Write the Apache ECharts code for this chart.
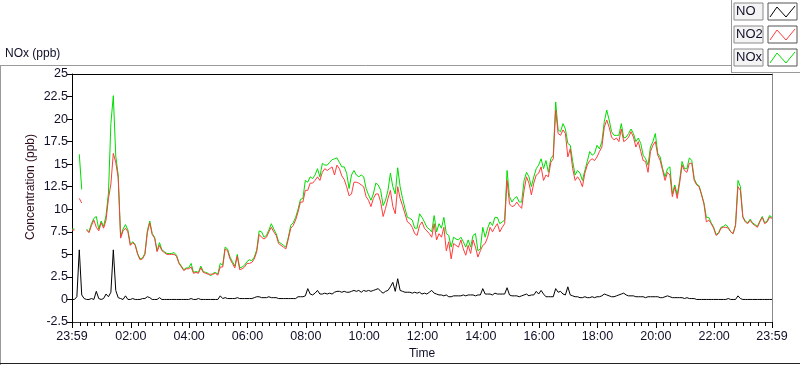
<!DOCTYPE html>
<html>
<head>
<meta charset="utf-8">
<script src="https://cdn.jsdelivr.net/npm/echarts@6/dist/echarts.min.js"></script>
<style>
html,body{margin:0;padding:0;background:#fff;}
#main{width:800px;height:365px;}
</style>
</head>
<body>
<div id="main"></div>
<script>
// samples every 5 min starting 23:59 (minute -1 of the day)
var startMin = -1, stepMin = 5;

var noData = [
0.0,0.0,0.3,5.5,0.5,0.1,0.0,0.0,0.1,0.0, 0.9,0.1,0.0,0.1,0.6,0.3,0.8,5.5,1.0,0.2,
0.1,0.0,0.4,0.0,0.0,0.1,0.0,0.0,0.0,0.1, 0.1,0.3,0.2,0.0,0.0,0.0,0.2,0.0,0.0,0.0,
0.0,0.0,0.0,0.0,0.0,0.0,0.0,0.0,0.0,0.1, 0.0,0.0,0.1,0.0,0.0,0.0,0.0,0.0,0.0,0.0,
0.0,0.4,0.1,0.2,0.1,0.1,0.1,0.1,0.2,0.1, 0.1,0.1,0.1,0.1,0.1,0.2,0.3,0.3,0.2,0.2,
0.2,0.3,0.2,0.2,0.2,0.1,0.1,0.1,0.1,0.1, 0.1,0.1,0.1,0.3,0.3,0.3,0.4,1.2,0.6,0.5,
0.7,1.0,0.6,0.6,0.7,0.6,0.7,0.6,0.8,0.9, 0.9,0.8,0.9,0.8,0.8,0.9,1.0,0.9,1.0,0.8,
1.0,0.9,1.0,0.9,1.0,1.1,1.2,0.9,0.7,0.9, 1.0,1.4,1.9,0.9,2.3,1.0,0.9,0.8,0.8,0.8,
0.7,0.8,0.7,0.8,0.6,0.7,0.6,0.8,1.0,0.7, 0.6,0.5,0.5,0.4,0.5,0.3,0.3,0.4,0.4,0.4,
0.4,0.5,0.4,0.5,0.5,0.5,0.4,0.5,0.5,1.2, 0.6,0.6,0.6,0.5,0.7,0.6,0.6,0.6,0.6,1.3,
0.5,0.4,0.4,0.4,0.3,0.4,0.5,0.6,0.4,0.5, 0.5,0.9,0.6,1.0,0.6,0.3,0.3,0.3,0.3,1.2,
0.8,0.9,0.6,0.5,1.4,0.5,0.4,0.3,0.3,0.2, 0.2,0.3,0.2,0.2,0.3,0.2,0.3,0.3,0.4,0.6,
0.5,0.4,0.3,0.3,0.4,0.5,0.6,0.7,0.5,0.4, 0.4,0.4,0.3,0.3,0.3,0.3,0.2,0.3,0.3,0.3,
0.3,0.3,0.2,0.2,0.3,0.4,0.3,0.2,0.2,0.2, 0.2,0.2,0.1,0.2,0.1,0.1,0.1,0.0,0.0,0.0,
0.0,0.0,0.0,0.0,0.0,0.0,0.0,0.0,0.0,0.0, 0.1,0.0,0.0,0.0,0.4,0.1,0.0,0.0,0.0,0.0,
0.0,0.0,0.0,0.0,0.0,0.0,0.0,0.0,0.0
];

var no2Data = [
7.7,7.7,null,11.2,10.7,null,7.7,7.4,8.2,8.8, 8.0,7.6,8.5,7.9,8.8,11.2,12.8,16.2,15.2,13.5,
6.8,7.6,7.9,7.5,6.0,6.3,6.0,5.0,4.4,4.5, 5.0,7.4,8.5,7.2,6.8,5.3,6.0,5.4,5.2,5.0,
5.0,5.0,5.0,4.8,4.0,3.6,3.2,3.4,3.4,3.6, 2.9,3.0,2.9,3.5,3.0,2.9,2.8,2.8,2.8,2.9,
2.7,3.6,3.6,5.6,5.4,4.5,4.0,3.5,4.8,3.3, 3.4,3.6,4.0,4.0,4.1,4.5,5.3,7.2,6.9,6.7,
6.9,7.5,8.0,7.5,7.1,6.2,6.0,5.8,5.6,6.7, 7.9,8.2,8.8,9.7,10.8,10.8,12.1,12.1,12.9,12.9,
13.2,13.6,13.2,14.1,14.5,14.3,14.5,14.7,13.8,14.9, 14.5,13.7,13.3,12.5,11.5,11.7,13.0,13.0,12.9,12.7,
12.5,11.4,11.0,10.3,11.2,11.7,11.7,10.8,9.2,10.1, 11.2,12.1,10.3,9.5,12.5,11.2,10.4,9.5,8.6,8.4,
8.0,7.3,7.1,8.2,8.6,7.9,7.6,7.3,6.9,8.4, 6.6,7.3,6.9,8.0,5.4,6.4,4.5,6.2,6.0,5.8,
6.6,5.6,4.9,6.0,5.1,6.6,5.8,4.7,5.4,6.0, 6.2,6.9,8.0,7.5,8.0,8.4,7.5,8.0,8.4,13.2,
10.6,10.3,10.4,10.8,10.4,10.1,12.1,13.6,12.9,11.6, 12.9,13.8,14.0,14.7,13.2,13.8,13.6,15.2,15.6,21.0,
18.4,18.2,18.8,18.4,15.8,16.7,14.5,13.2,13.6,13.2, 12.5,14.0,14.9,15.4,15.6,15.4,15.8,16.4,16.9,19.1,
19.9,19.1,18.0,17.7,17.9,17.5,18.9,17.5,17.7,18.0, 18.6,18.0,16.9,17.5,16.4,15.4,15.3,14.1,16.4,17.1,
17.5,16.0,15.4,14.3,13.2,14.1,13.8,11.4,12.5,11.2, 12.9,14.9,14.3,14.1,15.1,15.1,13.2,12.7,12.5,11.6,
10.6,8.6,8.8,8.4,7.9,7.1,7.3,7.9,8.0,8.0, 7.9,7.5,7.3,8.2,12.5,12.1,9.1,8.6,8.4,8.8,
8.4,8.2,8.0,8.6,9.1,8.4,8.6,9.1,9.0
];

var noxData = [
7.8,7.8,null,16.1,12.2,null,7.8,7.5,8.4,9.0, 9.2,7.8,8.7,8.1,9.3,11.8,19.5,22.6,15.9,13.8,
7.0,7.8,8.3,7.7,6.1,6.4,6.1,5.1,4.5,4.6, 5.1,7.6,8.7,7.3,6.9,5.4,6.3,5.5,5.3,5.1,
5.1,5.1,5.2,4.9,4.1,3.7,3.3,3.5,3.5,4.0, 3.0,3.1,3.0,3.7,3.1,3.0,2.9,2.6,2.9,3.0,
2.8,4.0,3.8,5.8,5.6,4.7,4.2,3.7,5.0,3.5, 3.6,3.8,4.2,4.4,4.3,4.7,5.5,7.6,7.5,6.9,
7.1,7.7,8.4,7.8,7.3,6.4,6.2,6.0,5.8,6.9, 8.2,8.5,9.1,10.0,11.1,11.2,13.2,13.0,13.6,13.4,
13.8,14.5,13.6,15.1,14.9,14.9,15.2,15.5,15.6,15.7, 15.2,14.7,14.7,14.0,12.3,13.8,14.3,13.8,13.6,13.8,
13.6,12.3,11.6,11.0,11.7,12.9,12.7,12.1,10.4,11.0, 12.1,14.0,12.5,11.7,14.6,12.5,11.2,10.1,9.1,9.0,
8.8,7.9,7.9,9.5,9.1,8.6,8.0,7.8,7.5,9.3, 7.5,8.4,7.9,9.1,7.3,7.1,5.8,6.9,6.7,6.6,
6.9,6.4,5.8,6.6,5.8,7.1,7.3,5.4,5.6,8.0, 6.9,7.9,8.6,8.2,9.1,9.1,8.4,8.6,8.8,14.3,
11.4,10.8,11.2,11.4,10.8,10.8,13.2,14.1,13.6,12.5, 13.6,14.5,14.9,15.6,14.5,15.4,14.1,15.6,16.0,21.9,
18.8,18.6,19.5,18.9,17.3,17.1,15.3,13.8,14.3,14.0, 13.2,14.3,15.3,16.4,16.0,16.2,17.1,16.7,17.5,19.7,
21.0,19.9,18.6,18.2,18.2,18.2,19.5,17.9,18.0,18.4, 18.9,18.4,17.5,17.9,17.3,16.0,15.6,14.9,16.9,17.5,
18.4,16.2,15.8,14.5,13.6,14.5,14.7,11.7,12.7,11.6, 13.2,15.3,14.5,14.5,15.7,15.4,13.4,12.8,12.6,11.7,
10.7,9.1,9.1,8.5,8.0,7.2,7.4,8.0,8.1,8.3, 8.0,7.5,7.3,8.3,13.2,12.5,9.2,8.7,8.5,8.9,
8.5,8.3,8.1,8.7,9.2,8.5,8.7,9.3,9.1
];

var labelTicks = [-1,120,240,360,480,600,720,840,960,1080,1200,1320,1439];
var minorTicks = [];
for (var m = 15; m < 1439; m += 15) { if (m % 120 !== 0) minorTicks.push(m); }

function pairs(arr){
	var out = [];
	for (var i = 0; i < arr.length; i++) out.push([startMin + i*stepMin, arr[i]]);
	return out;
}
function hhmm(v){
	if (v < 0 || v >= 1439) return '23:59';
	var h = Math.floor(v/60), mm = v % 60;
	return (h<10?'0':'') + h + ':' + (mm<10?'0':'') + mm;
}

var font = 'Liberation Sans';
var numFont = '"Liberation Sans Narrow", "Liberation Sans"';
var txt = '#101028';

var chart = echarts.init(document.getElementById('main'));

function legendItem(label, color, y){
	return [
		{type:'rect', shape:{x:734, y:y, width:29, height:17}, style:{fill:'#f4f4f4', stroke:'#8a8a8a', lineWidth:1}},
		{type:'text', x:736, y:y+2, style:{text:label, font:'13px ' + numFont, fill:txt}},
		{type:'rect', shape:{x:768, y:y, width:29, height:17}, style:{fill:'#fff', stroke:'#555', lineWidth:1}},
		{type:'polyline', shape:{points:[[770,y+14],[777,y+4],[786,y+14],[795,y+3]]}, style:{stroke:color, lineWidth:1, fill:null}}
	];
}

var graphics = [
	{type:'line', shape:{x1:0, y1:65.5, x2:731, y2:65.5}, style:{stroke:'#9a9a9a', lineWidth:1}},
	{type:'line', shape:{x1:0.5, y1:65, x2:0.5, y2:365}, style:{stroke:'#9a9a9a', lineWidth:1}},
	{type:'line', shape:{x1:0, y1:363.5, x2:800, y2:363.5}, style:{stroke:'#222', lineWidth:1}},
	{type:'line', shape:{x1:731.5, y1:0, x2:731.5, y2:72}, style:{stroke:'#9a9a9a', lineWidth:1}},
	{type:'line', shape:{x1:731, y1:72.5, x2:800, y2:72.5}, style:{stroke:'#9a9a9a', lineWidth:1}},
	{type:'text', x:5, y:48, style:{text:'NOx (ppb)', font:'12px "' + font + '"', fill:txt}},
	{type:'text', x:25, y:187, rotation:Math.PI/2, style:{text:'Concentration (ppb)', font:'12px "' + font + '"', fill:'#2a0a1a', align:'center', verticalAlign:'top'}}
].concat(legendItem('NO','#000',3), legendItem('NO2','#ff3c3c',26), legendItem('NOx','#00dd00',49));

chart.setOption({
	animation:false,
	backgroundColor:'#fff',
	textStyle:{fontFamily:font},
	grid:{left:72, right:28, top:74, bottom:43, containLabel:false},
	xAxis:[{
		type:'value', min:-1, max:1439, position:'bottom',
		name:'Time', nameLocation:'middle', nameGap:26,
		nameTextStyle:{color:txt, fontSize:12, fontFamily:font},
		axisLine:{show:true, onZero:false, lineStyle:{color:'#333', width:1}},
		axisTick:{show:true, customValues:labelTicks, length:6, lineStyle:{color:'#000'}},
		axisLabel:{customValues:labelTicks, formatter:hhmm, color:txt, fontSize:12.5, fontFamily:numFont, margin:8},
		splitLine:{show:false}
	},{
		type:'value', min:-1, max:1439, position:'top',
		axisLine:{show:true, onZero:false, lineStyle:{color:'#000', width:1}},
		axisTick:{show:false}, axisLabel:{show:false}, splitLine:{show:false}
	},{
		// minor 15-minute ticks, anchored on the zero of a hidden 0..1 axis (= bottom edge)
		type:'value', min:-1, max:1439, position:'bottom',
		axisLine:{show:false, onZero:true, onZeroAxisIndex:2},
		axisTick:{show:true, customValues:minorTicks, length:4, lineStyle:{color:'#000'}},
		axisLabel:{show:false},
		splitLine:{show:false}
	}],
	yAxis:[{
		type:'value', min:-2.5, max:25, interval:2.5,
		axisLine:{show:true, onZero:false, lineStyle:{color:'#000', width:1}},
		axisTick:{show:true, length:5, lineStyle:{color:'#000'}},
		axisLabel:{color:txt, fontSize:12.5, fontFamily:numFont, margin:4},
		splitLine:{show:false}
	},{
		type:'value', min:-2.5, max:25, position:'right',
		axisLine:{show:true, onZero:false, lineStyle:{color:'#8a8a8a', width:1}},
		axisTick:{show:false}, axisLabel:{show:false}, splitLine:{show:false}
	},{
		type:'value', min:0, max:1, position:'left',
		axisLine:{show:false, onZero:false}, axisTick:{show:false}, axisLabel:{show:false}, splitLine:{show:false}
	}],
	series:[
		{name:'NOx', type:'line', data:pairs(noxData), showSymbol:false, connectNulls:false,
		 lineStyle:{color:'#00dd00', width:1}, itemStyle:{color:'#00dd00'}, z:2, silent:true},
		{name:'NO2', type:'line', data:pairs(no2Data), showSymbol:false, connectNulls:false,
		 lineStyle:{color:'#ff3c3c', width:1}, itemStyle:{color:'#ff3c3c'}, z:3, silent:true},
		{name:'NO', type:'line', data:pairs(noData), showSymbol:false,
		 lineStyle:{color:'#000', width:1}, itemStyle:{color:'#000'}, z:4, silent:true}
	],
	graphic:graphics
});
</script>
</body>
</html>
